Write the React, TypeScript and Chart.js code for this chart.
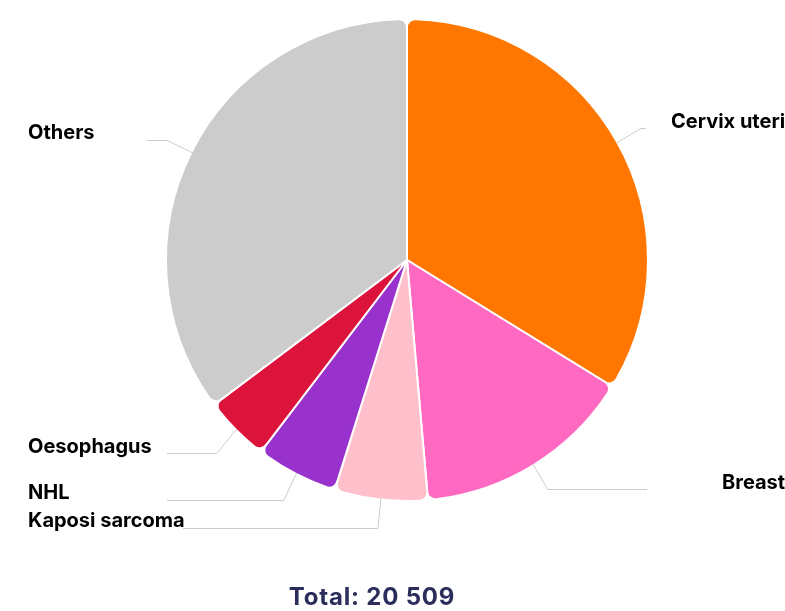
import React, { useEffect, useRef } from "react";
import { Chart, registerables } from "chart.js";

Chart.register(...registerables);

const categories = ["Cervix uteri", "Breast", "Kaposi sarcoma", "NHL", "Oesophagus", "Others"];
const cases = [6930, 3040, 1280, 1130, 900, 7229];
const colors = ["#FF7700", "#FF69C2", "#FFC0CB", "#9932CC", "#DC143C", "#CCCCCC"];
const totalLabel = "Total: 20 509";

// label layout (styling only)
const labelLineY = [128, 489, 528, 500, 453, 140];
const lineEndX = [646, 647, 183, 167, 167, 147];
const textX = [671, 722, 28, 28, 28, 28];
const textY = [122, 483, 521, 493, 447, 133];

const labelPlugin = {
  id: "pieLabels",
  afterDraw(chart: any) {
    const ctx = chart.ctx as CanvasRenderingContext2D;
    const meta = chart.getDatasetMeta(0);
    ctx.save();
    meta.data.forEach((arc: any, i: number) => {
      const { x, y, startAngle, endAngle, outerRadius } = arc.getProps(
        ["x", "y", "startAngle", "endAngle", "outerRadius"],
        true
      );
      const mid = (startAngle + endAngle) / 2;
      const ex = x + Math.cos(mid) * (outerRadius - 1);
      const ey = y + Math.sin(mid) * (outerRadius - 1);
      const kx = ex + Math.cos(mid) * 28;
      const ky = labelLineY[i] + 0.5;
      ctx.beginPath();
      ctx.strokeStyle = "#cccccc";
      ctx.lineWidth = 1;
      ctx.moveTo(ex, ey);
      ctx.lineTo(kx, ky);
      ctx.lineTo(lineEndX[i], ky);
      ctx.stroke();
      ctx.fillStyle = "#000000";
      ctx.font = "bold 20px Inter";
      ctx.textAlign = "left";
      ctx.textBaseline = "middle";
      ctx.fillText(categories[i], textX[i], textY[i]);
    });
    ctx.fillStyle = "#2B2E5A";
    ctx.font = "bold 24px Inter";
    ctx.textAlign = "center";
    ctx.textBaseline = "alphabetic";
    (ctx as any).letterSpacing = "0.8px";
    ctx.fillText(totalLabel, 372, 605);
    ctx.restore();
  },
};

export default function App() {
  const ref = useRef<HTMLCanvasElement | null>(null);
  useEffect(() => {
    if (!ref.current) return;
    const chart = new Chart(ref.current, {
      type: "pie",
      data: {
        labels: categories,
        datasets: [
          {
            data: cases,
            backgroundColor: colors,
            borderColor: "#ffffff",
            borderWidth: 2,
            borderRadius: 8,
            radius: 241,
          } as any,
        ],
      },
      options: {
        responsive: false,
        animation: false,
        layout: { padding: { left: 29, right: 0, top: 20, bottom: 111 } },
        plugins: {
          legend: { display: false },
          tooltip: { enabled: false },
          title: { display: false },
        },
      },
      plugins: [labelPlugin],
    });
    return () => chart.destroy();
  }, []);
  return (
    <div style={{ position: "absolute", left: 0, top: 0, width: 785, height: 611, background: "#fff" }}>
      <canvas ref={ref} width={785} height={611} />
    </div>
  );
}
